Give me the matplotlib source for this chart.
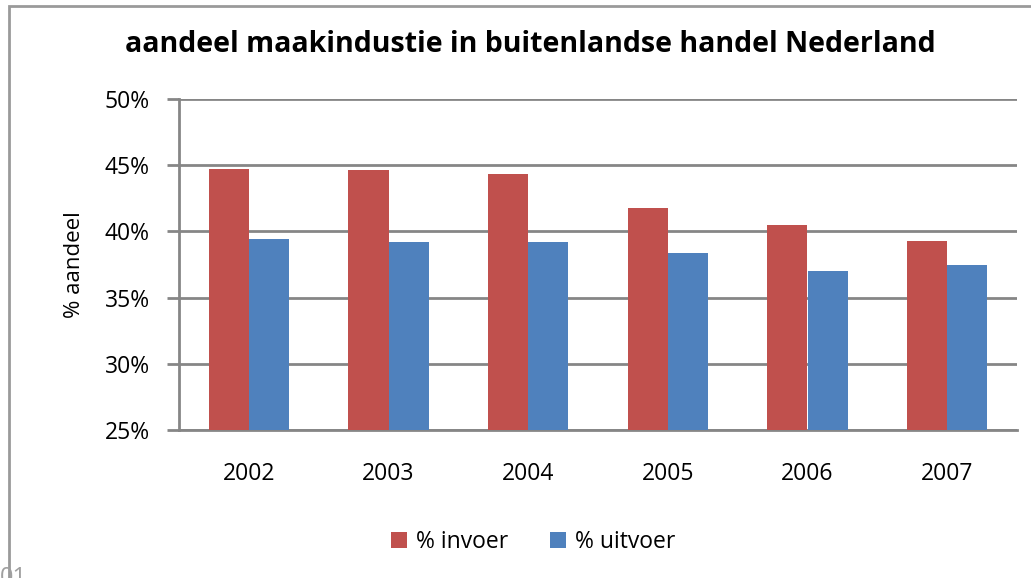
import numpy as np
import matplotlib.pyplot as plt
from matplotlib.patches import Rectangle
from matplotlib.ticker import FuncFormatter

years = ["2002", "2003", "2004", "2005", "2006", "2007"]
invoer = [44.7, 44.6, 44.3, 41.8, 40.5, 39.3]
uitvoer = [39.4, 39.2, 39.2, 38.4, 37.0, 37.5]

plt.rcParams["font.family"] = ["Open Sans", "DejaVu Sans"]

fig = plt.figure(figsize=(10.31, 5.78), dpi=100)
W, H = 1031, 578
ax = fig.add_axes([179 / W, 1 - 430 / H, (1017 - 179) / W, (430 - 99) / H])

# outer chart frame
fig.patches.append(Rectangle((9 / W, -0.1), 1.2, 1 - 6 / H + 0.1, transform=fig.transFigure,
                             fill=False, edgecolor="#9a9a9a", linewidth=2))
fig.text(0 / W, 1 - 566 / H, "01", fontsize=17, color="#a0a0a0", ha="left", va="top")

x = np.arange(len(years))
w = 0.287
ax.bar(x - w / 2, invoer, w, color="#C0504D", label="% invoer", zorder=3)
ax.bar(x + w / 2, uitvoer, w, color="#4F81BD", label="% uitvoer", zorder=3)

ax.set_xlim(-0.5, len(years) - 0.5)
ax.set_ylim(25, 50)
ax.set_yticks([25, 30, 35, 40, 45, 50])
ax.yaxis.set_major_formatter(FuncFormatter(lambda v, p: f"{v:.0f}%"))
ax.set_xticks(x)
ax.set_xticklabels(years)
ax.grid(axis="y", color="#868686", linewidth=2, zorder=0)

for s in ["top", "right"]:
    ax.spines[s].set_visible(False)
for s in ["left", "bottom"]:
    ax.spines[s].set_color("#868686")
    ax.spines[s].set_linewidth(2)
ax.tick_params(axis="y", length=9, width=2, color="#868686", labelsize=16.5, pad=12)
ax.tick_params(axis="x", length=0, labelsize=16.5, pad=23)

ax.set_ylabel("% aandeel", fontsize=16, labelpad=14)

fig.text(530 / W, 1 - 45 / H, "aandeel maakindustie in buitenlandse handel Nederland",
         fontsize=20.5, fontweight="bold", ha="center", va="center")

fig.legend(loc="center", bbox_to_anchor=(533 / W, 1 - 542 / H), ncol=2, frameon=False,
           fontsize=16.5, handlelength=0.7, handleheight=0.7, handletextpad=0.4, columnspacing=1.8)

fig.savefig("out.png", dpi=100)
